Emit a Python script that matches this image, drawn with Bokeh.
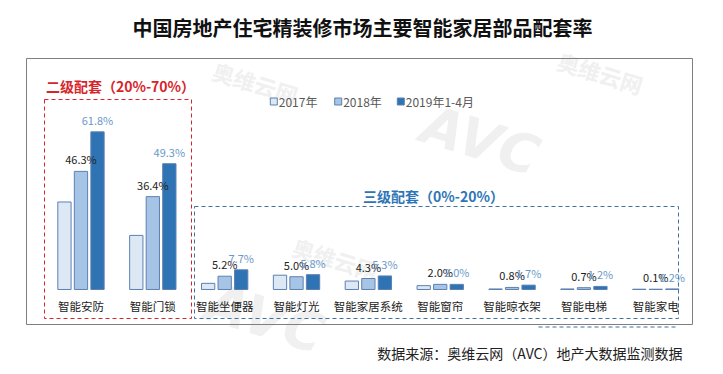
from bokeh.plotting import figure
from bokeh.models import Range1d, ColumnDataSource
from bokeh.transform import dodge
from bokeh.core.properties import value
from bokeh.embed import file_html
from bokeh.resources import INLINE

# ---------------- data ----------------
chart_title = "中国房地产住宅精装修市场主要智能家居部品配套率"
categories = ["智能安防", "智能门锁", "智能坐便器", "智能灯光", "智能家居系统",
              "智能窗帘", "智能晾衣架", "智能电梯", "智能家电"]
series_names = ["2017年", "2018年", "2019年1-4月"]
v2017 = [34.3, 21.2, 2.4, 5.6, 3.3, 1.5, 0.2, 0.2, 0.1]
v2018 = [46.3, 36.4, 5.2, 5.0, 4.3, 2.0, 0.8, 0.7, 0.1]
v2019 = [61.8, 49.3, 7.7, 5.8, 5.3, 2.0, 1.7, 1.2, 0.2]
group2_title = "二级配套（20%-70%）"
group3_title = "三级配套（0%-20%）"
source_note = "数据来源：奥维云网（AVC）地产大数据监测数据"

# ---------------- styling ----------------
W, H = 707, 366
CJK = value("Noto Sans CJK SC")
fills = ["#dde8f5", "#a6c4e6", "#2e74b5"]
edge = "#5d80b0"
label_colors = ["#222222", "#222222", "#6b98c9"]
offsets = [-0.23, 0.0, 0.23]
bar_w = 0.185

p = figure(width=W, height=H, x_range=Range1d(0, W), y_range=Range1d(H, 0),
           x_axis_location=None, y_axis_location=None, toolbar_location=None,
           output_backend="svg", min_border=0)
p.grid.visible = False
p.outline_line_color = None
p.background_fill_color = "white"
p.border_fill_color = "white"
p.extra_x_ranges = {"cat": Range1d(-0.620, 9.220)}
p.extra_y_ranges = {"val": Range1d(-30.2, 113.3)}

# ---------------- faint watermarks ----------------
p.text(x=[480, 265], y=[140, 318], text=["AVC", "AVC"],
       text_font=value("DejaVu Sans"), text_font_size="54px",
       text_font_style="bold italic", text_color="#f0f0f0",
       text_align="center", text_baseline="middle", angle=-0.3)
p.text(x=[255, 600, 335], y=[82, 72, 258],
       text=["奥维云网", "奥维云网", "奥维云网"],
       text_font=CJK, text_font_size="22px", text_font_style="bold",
       text_color="#f0f0f0", text_align="center", text_baseline="middle", angle=-0.3)

# ---------------- outer frame ----------------
p.quad(left=[26], right=[692], top=[58], bottom=[324],
       fill_color=None, line_color="#7f7f7f", line_width=1)

# ---------------- group boxes ----------------
p.quad(left=[44], right=[191], top=[99], bottom=[318],
       fill_color=None, line_color="#d7262b", line_width=1, line_dash="4 3")
p.quad(left=[194], right=[678], top=[206], bottom=[318],
       fill_color=None, line_color="#41719c", line_width=1, line_dash="4 3")
p.line(x=[538, 678], y=[326.5, 326.5], line_color="#41719c",
       line_width=1, line_dash="4 3")

# ---------------- titles ----------------
p.text(x=[362], y=[27], text=[chart_title], text_font=CJK,
       text_font_size="20px", text_font_style="bold", text_color="#111111",
       text_align="center", text_baseline="middle")
p.text(x=[120], y=[85], text=[group2_title], text_font=CJK,
       text_font_size="14px", text_font_style="bold", text_color="#d7262b",
       text_align="center", text_baseline="middle")
p.text(x=[433], y=[195], text=[group3_title], text_font=CJK,
       text_font_size="14px", text_font_style="bold", text_color="#2e75b6",
       text_align="center", text_baseline="middle")
p.text(x=[682], y=[352], text=[source_note], text_font=CJK,
       text_font_size="14px", text_color="#222222",
       text_align="right", text_baseline="middle")

# ---------------- legend ----------------
leg_x = [273.3, 337.7, 400.3]
leg_y = [101] * 3
p.rect(x=leg_x, y=leg_y, width=7, height=7, fill_color=fills,
       line_color=edge, line_width=1)
p.text(x=[x + 5 for x in leg_x], y=leg_y, text=series_names, text_font=CJK,
       text_font_size="12px", text_color="#595959",
       text_align="left", text_baseline="middle")

# ---------------- bars ----------------
src = ColumnDataSource(dict(
    x=[i + 0.5 for i in range(len(categories))],
    cat=categories,
    s0=v2017, s1=v2018, s2=v2019,
    l1=[f"{v:.1f}%" for v in v2018],
    l2=[f"{v:.1f}%" for v in v2019],
))
for k in range(3):
    p.vbar(x=dodge("x", offsets[k]), top=f"s{k}", bottom=0, width=bar_w,
           source=src, fill_color=fills[k], line_color=edge, line_width=1,
           x_range_name="cat", y_range_name="val")
for k in (1, 2):
    p.text(x=dodge("x", offsets[k]), y=f"s{k}", text=f"l{k}", source=src,
           text_font=CJK, text_font_size="11px", text_color=label_colors[k],
           text_align="center", text_baseline="middle", y_offset=-12,
           x_range_name="cat", y_range_name="val")

# category labels
p.text(x="x", y=305, text="cat", source=src, text_font=CJK,
       text_font_size="11.5px", text_color="#222222",
       text_align="center", text_baseline="middle", x_range_name="cat")

open("out.html", "w").write(file_html(p, INLINE))
